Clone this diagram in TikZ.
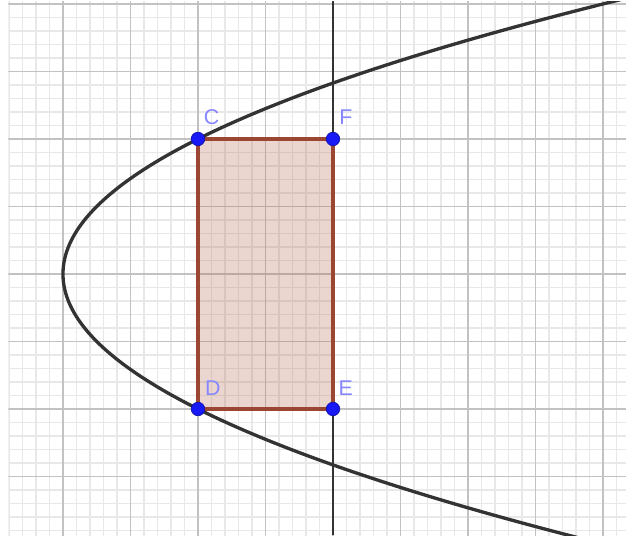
\documentclass[tikz,border=0pt]{standalone}
\usepackage{fontspec}
\setsansfont{Liberation Sans}
\definecolor{rectbrown}{RGB}{155,70,50}
\definecolor{rectfillc}{RGB}{175,95,60}
\definecolor{ptblue}{RGB}{25,25,245}
\definecolor{lblblue}{RGB}{135,135,255}
\begin{document}
\begin{tikzpicture}[x=1cm,y=1cm,
  minorgrid/.style={draw=black!9, line width=0.5pt},
  majorgrid/.style={draw=black!24, line width=0.8pt},
  curve/.style={draw=black!80, line width=1.4pt},
  vline/.style={draw=black!80, line width=1.1pt},
  rectfill/.style={fill=rectfillc, fill opacity=0.25},
  rectline/.style={draw=rectbrown, line width=1.5pt, line join=miter},
  pt/.style={circle, fill=ptblue, draw=ptblue!70!black, line width=0.3pt, minimum size=0.2cm, inner sep=0pt},
  lbl/.style={text=lblblue, font=\fontsize{9}{10}\sffamily, inner sep=0pt}
]
\useasboundingbox (-4.933,-3.867) rectangle (4.341,4.059);
\fill[white] (-4.933,-3.867) rectangle (4.341,4.059);
\begin{scope}
  \clip (-4.81,-3.867) rectangle (4.341,4.04);
  \draw[minorgrid] (-5,-4) grid[step=0.2] (5,5);
  \draw[majorgrid] (-5,-4) grid[step=1] (5,5);
  \draw[curve] plot[domain=-3.95:4.1, samples=120, smooth, variable=\t] ({\t*\t/2-4},\t);
\end{scope}
\coordinate (C) at (-2,2);
\coordinate (F) at (0,2);
\coordinate (E) at (0,-2);
\coordinate (D) at (-2,-2);
\coordinate (Ftop) at (0,4.04);
\coordinate (Ebot) at (0,-3.867);
\draw[vline] (Ftop) -- (F) -- (E) -- (Ebot);
\fill[rectfill] (C) -- (F) -- (E) -- (D) -- cycle;
\draw[rectline] (C) -- (F) -- (E) -- (D) -- cycle;
\node[pt] (Cp) at (C) {};
\node[pt] (Fp) at (F) {};
\node[pt] (Ep) at (E) {};
\node[pt] (Dp) at (D) {};
\node[lbl, xshift=0.2cm, yshift=0.32cm] (Cl) at (C) {C};
\node[lbl, xshift=0.19cm, yshift=0.32cm] (Fl) at (F) {F};
\node[lbl, xshift=0.22cm, yshift=0.31cm] (Dl) at (D) {D};
\node[lbl, xshift=0.19cm, yshift=0.31cm] (El) at (E) {E};
\end{tikzpicture}
\end{document}
